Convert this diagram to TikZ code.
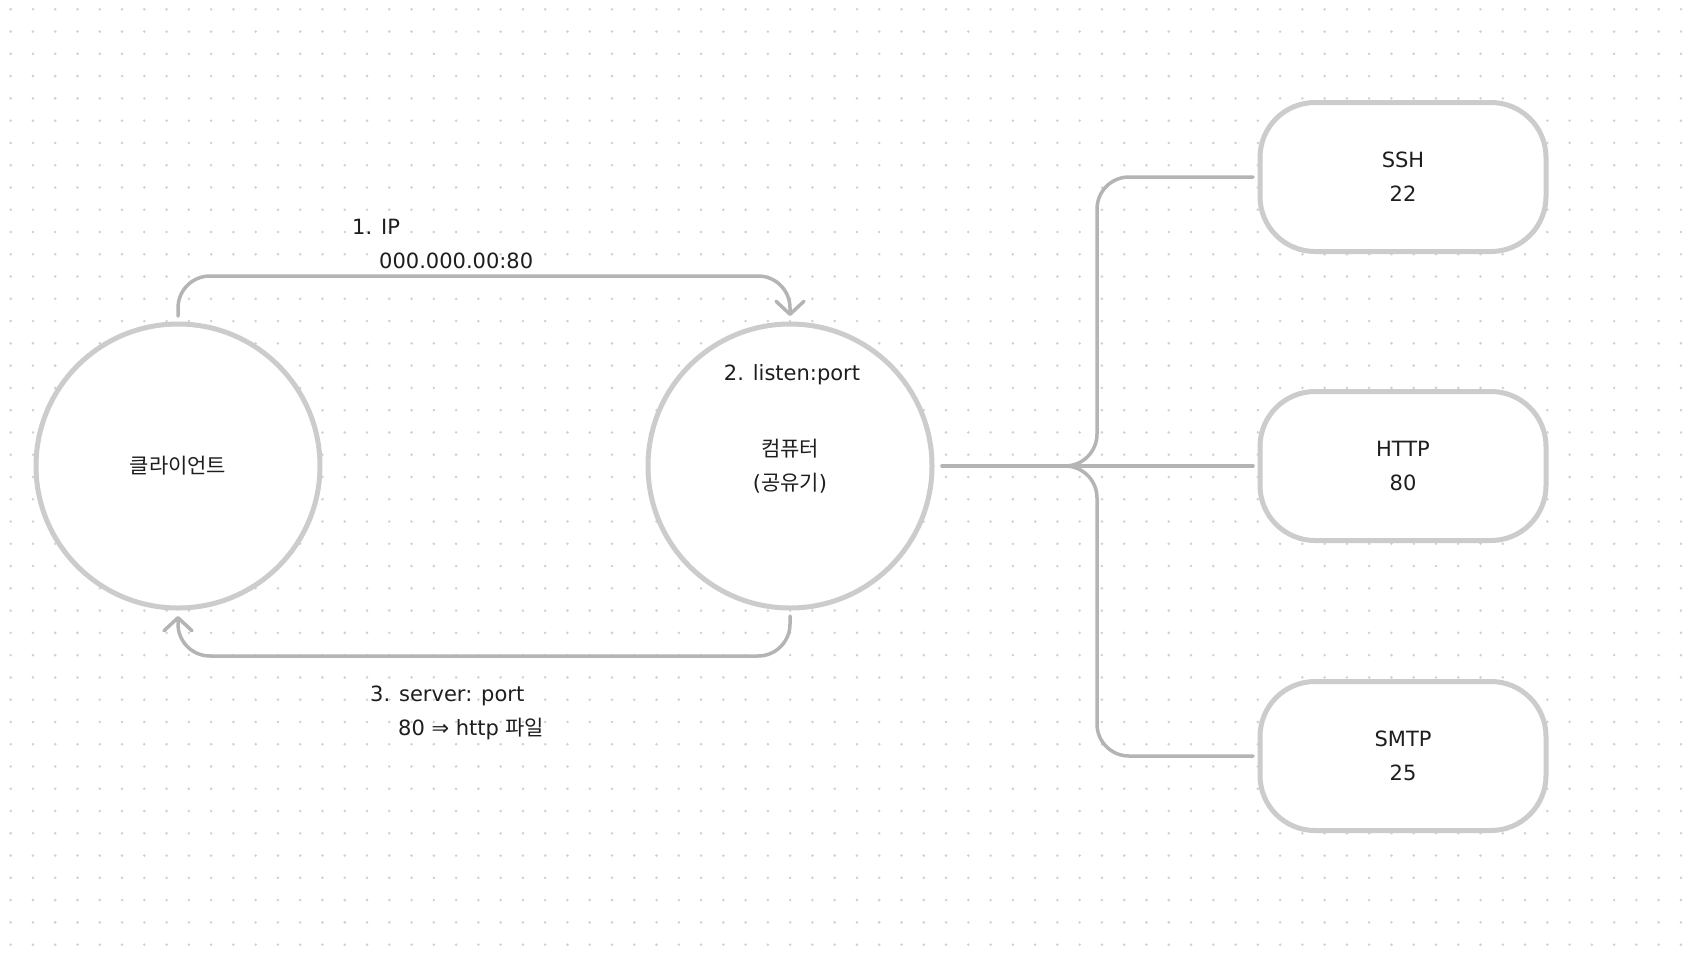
\documentclass[tikz,border=0pt]{standalone}
\usepackage{fontspec}
\setmainfont{DejaVu Sans}
\newfontfamily\kr{Noto Sans CJK KR}
\usepackage{tikz}
\usetikzlibrary{arrows.meta, positioning, calc}

\definecolor{ringgray}{HTML}{CCCCCC}
\definecolor{wiregray}{HTML}{B4B4B4}
\definecolor{dotgray}{HTML}{D0D0D0}
\definecolor{inkgray}{HTML}{1E1E1E}

\begin{document}
\begin{tikzpicture}[x=1pt, y=-1pt,
    host/.style={circle, draw=ringgray, line width=5pt, fill=white, minimum size=284pt,
        outer sep=0pt, align=center, text=inkgray, font=\fontsize{21}{34}\selectfont},
    portbox/.style={rectangle, rounded corners=55pt, draw=ringgray, line width=5pt, fill=white,
        minimum width=286pt, minimum height=149pt, outer sep=0pt, align=center,
        text=inkgray, font=\fontsize{21}{34}\selectfont},
    wire/.style={draw=wiregray, line width=3.5pt, line cap=round, line join=round, rounded corners=32pt},
    note/.style={inner sep=0pt, align=left, text=inkgray, font=\fontsize{21}{34}\selectfont}]

    % Canvas with dot grid
    \fill[white] (0,0) rectangle (1696,964);
    \useasboundingbox (0,0) rectangle (1696,964);
    \foreach \i in {0,...,76}
        \foreach \j in {0,...,42}
            \fill[dotgray] ({10.7+22.27*\i},{9.3+22.27*\j}) circle (1.4pt);

    % Hosts
    \node[host] (client) at (178,466) {{\kr 클라이언트}};
    \node[host] (pc) at (790,466) {{\kr 컴퓨터}\\({\kr 공유기})};
    \node[note, anchor=base] (listen) at (792,380) {2. listen:port};

    % Services on the ports
    \node[portbox] (ssh) at (1403,177) {SSH\\22};
    \node[portbox] (http) at (1403,466) {HTTP\\80};
    \node[portbox] (smtp) at (1403,756) {SMTP\\25};

    % Request and response
    \draw[wire, -{Straight Barb[length=13pt, width=28pt, round]}]
        ([yshift=8pt]client.north) -- ([yshift=48pt]client.north) -| ([yshift=8pt]pc.north);
    \draw[wire, -{Straight Barb[length=13pt, width=28pt, round]}]
        ([yshift=-8pt]pc.south) -- ([yshift=-48pt]pc.south) -| ([yshift=-8pt]client.south);
    \node[note, anchor=north west] (ipnote) at (352,219) {1. IP\\\hspace*{27pt}000.000.00:80};
    \node[note, anchor=north west] (servenote) at (370,686) {3. server: port\\\hspace*{28pt}80 ⇒ http {\kr 파일}};

    % Fan-out to the ports
    \coordinate (fork) at (1097,466);
    \draw[wire] ([xshift=10pt]pc.east) -- ([xshift=-7pt]http.west);
    \draw[wire] ([xshift=10pt]pc.east) -- (fork) |- ([xshift=-7pt]ssh.west);
    \draw[wire] ([xshift=10pt]pc.east) -- (fork) |- ([xshift=-7pt]smtp.west);
\end{tikzpicture}
\end{document}
